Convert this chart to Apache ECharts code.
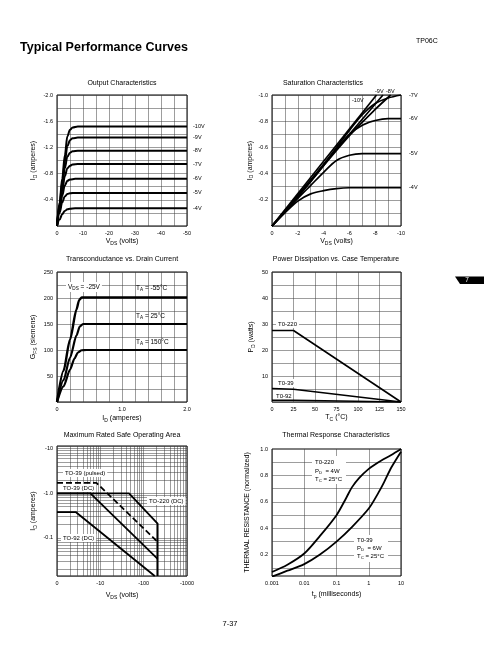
<!DOCTYPE html>
<html><head><meta charset="utf-8">
<script src="https://cdn.jsdelivr.net/npm/echarts@6/dist/echarts.min.js"></script>
<style>html,body{margin:0;padding:0;background:#fff}#c{width:486px;height:649px}</style>
</head><body><div id="c"></div>
<script>
const FONT = '"Liberation Sans", Arial, Helvetica, sans-serif';

// ---------- Output Characteristics (VDS volts, ID amperes) ----------
const outNames = ['-10V','-9V','-8V','-7V','-6V','-5V','-4V'];
const outM10 = [[0,0],[-1,-0.36],[-2,-0.72],[-3,-1.08],[-4,-1.37],[-5,-1.47],[-6,-1.505],[-8,-1.52],[-50,-1.52]];
const outM9  = [[0,0],[-1,-0.33],[-2,-0.66],[-3,-0.98],[-4,-1.22],[-5,-1.31],[-6,-1.34],[-8,-1.35],[-50,-1.35]];
const outM8  = [[0,0],[-1,-0.3],[-2,-0.6],[-3,-0.88],[-4,-1.06],[-5,-1.12],[-6,-1.14],[-8,-1.15],[-50,-1.15]];
const outM7  = [[0,0],[-1,-0.27],[-2,-0.53],[-3,-0.76],[-4,-0.88],[-5,-0.92],[-6,-0.94],[-8,-0.945],[-50,-0.945]];
const outM6  = [[0,0],[-1,-0.24],[-2,-0.46],[-3,-0.62],[-4,-0.69],[-5,-0.71],[-7,-0.72],[-50,-0.72]];
const outM5  = [[0,0],[-1,-0.2],[-2,-0.36],[-3,-0.45],[-4,-0.49],[-5,-0.5],[-7,-0.505],[-50,-0.505]];
const outM4  = [[0,0],[-1,-0.1],[-2,-0.18],[-3,-0.23],[-4,-0.255],[-5,-0.265],[-7,-0.27],[-50,-0.27]];
const outCurves = [outM10,outM9,outM8,outM7,outM6,outM5,outM4];

// ---------- Saturation Characteristics ----------
const satNames = ['-10V','-9V','-8V','-7V','-6V','-5V','-4V'];
const satM10 = [[0,0],[-8.1,-1.0]];
const satM9  = [[0,0],[-4,-0.47],[-8.6,-1.0]];
const satM8  = [[0,0],[-3,-0.345],[-6,-0.69],[-8,-0.89],[-9.2,-1.0]];
const satM7  = [[0,0],[-2,-0.225],[-4,-0.47],[-5,-0.6],[-6,-0.73],[-7,-0.85],[-8,-0.935],[-9,-0.977],[-10,-1.0]];
const satM6  = [[0,0],[-2,-0.22],[-4,-0.46],[-5,-0.59],[-6,-0.7],[-7,-0.77],[-8,-0.805],[-9,-0.82],[-10,-0.82]];
const satM5  = [[0,0],[-2,-0.21],[-3,-0.31],[-4,-0.41],[-5,-0.5],[-6,-0.54],[-7,-0.552],[-10,-0.552]];
const satM4  = [[0,0],[-1,-0.1],[-2,-0.19],[-3,-0.245],[-4,-0.27],[-5,-0.286],[-6,-0.292],[-10,-0.292]];
const satCurves = [satM10,satM9,satM8,satM7,satM6,satM5,satM4];

// ---------- Transconductance vs Drain Current (ID A, GFS S) ----------
const gfsM55 = [[0,0],[0.1,60],[0.2,120],[0.3,178],[0.34,196],[0.38,201],[2,201]];
const gfs25  = [[0,0],[0.1,42],[0.2,85],[0.3,128],[0.35,145],[0.4,150],[2,150]];
const gfs150 = [[0,0],[0.1,30],[0.2,62],[0.27,84],[0.32,95],[0.38,99.5],[0.45,100],[2,100]];

// ---------- Power Dissipation vs Case Temperature (TC, PD) ----------
const pdTO220 = [[0,27.5],[25,27.5],[150,0]];
const pdTO39  = [[0,5.2],[25,4.9],[150,0]];
const pdTO92  = [[0,0.7],[25,0.65],[150,0]];

// ---------- Max Rated Safe Operating Area (|VDS|, |ID|) ----------
const soaTO220   = [[1,1.0],[46,1.0],[210,0.21],[210,0.014]];
const soaTO39P   = [[1,1.72],[8.1,1.72],[200,0.085]];
const soaTO39DC  = [[1,1.0],[5.9,1.0],[210,0.034]];
const soaTO92    = [[1,0.38],[2.7,0.38],[180,0.014]];

// ---------- Thermal Response (tp ms, normalized) ----------
const thTO220 = [[0.001,0.07],[0.003,0.125],[0.01,0.21],[0.03,0.34],[0.1,0.5],[0.2,0.63],[0.3,0.71],[0.5,0.78],[1,0.85],[2,0.9],[5,0.955],[10,1.0]];
const thTO39  = [[0.001,0.035],[0.003,0.08],[0.01,0.13],[0.03,0.2],[0.1,0.3],[0.3,0.41],[1,0.55],[2,0.67],[3,0.75],[5,0.86],[10,0.98]];

// tick label lists
const thYLabels = [0.2,0.4,0.6,0.8,1.0];

// ---------- helpers ----------
const GRID_LINE = {color:'#3a3a3a', width:0.5};
const RICH = {
  m:{fontSize:7, fontFamily:FONT, color:'#000', verticalAlign:'top', lineHeight:8},
  s:{fontSize:5, fontFamily:FONT, color:'#000', verticalAlign:'top', lineHeight:6, padding:[3,0,0,0]}
};
const near = (v, step) => Math.abs(Math.round(v/step)*step - v) < 1e-6;

function axis(gi, o, fmt) {
  const a = {
    gridIndex: gi, type:'value',
    axisLine:{show:false}, axisTick:{show:false},
    splitLine:{show:true, lineStyle:GRID_LINE},
    axisLabel:{fontSize:5.5, color:'#000', fontFamily:FONT, margin:4, interval:0, hideOverlap:false, showMinLabel:true, showMaxLabel:true, formatter: fmt},
    nameLocation:'middle',
    nameTextStyle:{rich:RICH}
  };
  return Object.assign(a, o);
}
function ln(gi, name, data, extra) {
  return Object.assign({
    type:'line', name, data, xAxisIndex:gi, yAxisIndex:gi,
    symbol:'none', showSymbol:false, silent:true, animation:false,
    lineStyle:{color:'#000', width:2}, z:5
  }, extra || {});
}
function logMinor(lo, hi) {
  const r = [];
  for (let d = lo; d < hi*0.999; d *= 10) for (let k = 2; k <= 9; k++) r.push(+(d*k).toPrecision(3));
  return r;
}
function txt(x, y, text, size, extra) {
  return {
    type:'text', x, y, z:100,
    style:Object.assign({text, fill:'#000', fontSize:size||6.5, fontFamily:FONT, align:'left', verticalAlign:'middle',
      rich:{m:{fontSize:size||6.5, fontFamily:FONT, fill:'#000'}, s:{fontSize:(size||6.5)*0.72, fontFamily:FONT, fill:'#000', padding:[3,0,0,0]}}
    }, (extra||{}))
  };
}
const BOX = {backgroundColor:'#fff', padding:[1,2]};

const grids = [
  {left:57, top:95, width:130, height:131},
  {left:272, top:95, width:129, height:131},
  {left:57, top:272, width:130, height:130},
  {left:272, top:272, width:129, height:130},
  {left:57, top:446, width:130, height:130},
  {left:272, top:449, width:129, height:127}
].map(g => Object.assign({show:true, borderColor:'#000', borderWidth:1, backgroundColor:'#fff', containLabel:false}, g));

const xAxes = [
  axis(0, {min:-50, max:0, interval:5, inverse:true, name:'{m|V}{s|DS}{m| (volts)}', nameGap:12},
    v => near(v,10) ? (Math.abs(v)<1e-9 ? '0' : String(Math.round(v))) : ''),
  axis(1, {min:-10, max:0, interval:1, inverse:true, name:'{m|V}{s|DS}{m| (volts)}', nameGap:12},
    v => near(v,2) ? (Math.abs(v)<1e-9 ? '0' : String(Math.round(v))) : ''),
  axis(2, {min:0, max:2, interval:0.2, name:'{m|I}{s|D}{m| (amperes)}', nameGap:13},
    v => near(v,1) ? (v<1e-9 ? '0' : v.toFixed(1)) : ''),
  axis(3, {min:0, max:150, interval:25, name:'{m|T}{s|C}{m| (°C)}', nameGap:12},
    v => String(Math.round(v))),
  axis(4, {type:'log', logBase:10, min:1, max:1000, name:'{m|V}{s|DS}{m| (volts)}', nameGap:16},
    v => { const n = +(+v).toPrecision(3); return n===1 ? '0' : '-'+n; }),
  axis(5, {type:'log', logBase:10, min:0.001, max:10, name:'{m|t}{s|p}{m| (milliseconds)}', nameGap:15},
    v => String(+(+v).toPrecision(3)))
];
const yAxes = [
  axis(0, {min:-2, max:0, interval:0.2, inverse:true, name:'{m|I}{s|D}{m| (amperes)}', nameGap:19},
    v => (v < -1e-9 && near(v,0.4)) ? v.toFixed(1) : ''),
  axis(1, {min:-1, max:0, interval:0.1, inverse:true, name:'{m|I}{s|D}{m| (amperes)}', nameGap:17},
    v => (v < -1e-9 && near(v,0.2)) ? v.toFixed(1) : ''),
  axis(2, {min:0, max:250, interval:25, name:'{m|G}{s|FS}{m| (siemens)}', nameGap:19},
    v => (v > 0 && near(v,50)) ? String(Math.round(v)) : ''),
  axis(3, {min:0, max:50, interval:5, name:'{m|P}{s|D}{m| (watts)}', nameGap:16},
    v => (v > 0 && near(v,10)) ? String(Math.round(v)) : ''),
  axis(4, {type:'log', logBase:10, min:0.014, max:11.5, name:'{m|I}{s|D}{m| (amperes)}', nameGap:19},
    v => { const n = +(+v).toPrecision(3); return n===10 ? '-10' : n===1 ? '-1.0' : n===0.1 ? '-0.1' : ''; }),
  axis(5, {min:0.04, max:1.0, name:'{m|THERMAL RESISTANCE (normalized)}', nameGap:20,
    splitLine:{show:false}},
    v => v.toFixed(1))
];
yAxes[5].axisLabel.customValues = thYLabels;

const series = [];
outCurves.forEach((d,i) => series.push(ln(0, outNames[i], d, {smooth:0.35, smoothMonotone:'x'})));
satCurves.forEach((d,i) => series.push(ln(1, satNames[i], d, {smooth: i < 2 ? false : 0.3, lineStyle:{color:'#000', width:1.7}})));
series.push(ln(2, 'TA=-55', gfsM55, {smooth:0.25, smoothMonotone:'x', lineStyle:{color:'#000', width:2.4}}));
series.push(ln(2, 'TA=25', gfs25, {smooth:0.25, smoothMonotone:'x', lineStyle:{color:'#000', width:2.2}}));
series.push(ln(2, 'TA=150', gfs150, {smooth:0.25, smoothMonotone:'x', lineStyle:{color:'#000', width:2.2}}));
series.push(ln(3, 'TO-220', pdTO220, {lineStyle:{color:'#000', width:1.6}}));
series.push(ln(3, 'TO-39', pdTO39, {lineStyle:{color:'#000', width:1.6}}));
series.push(ln(3, 'TO-92', pdTO92, {lineStyle:{color:'#000', width:1.6}}));

const soaMinorX = logMinor(1, 1000), soaMinorY = logMinor(0.01, 10);
series.push(ln(4, 'grid', [], {z:1, markLine:{silent:true, symbol:['none','none'], label:{show:false}, animation:false,
  lineStyle:Object.assign({type:'solid'}, GRID_LINE),
  data: soaMinorX.map(v=>({xAxis:v})).concat(soaMinorY.filter(v=>v>0.014).map(v=>({yAxis:v})))}}));
series.push(ln(4, 'TO-220 (DC)', soaTO220, {lineStyle:{color:'#000', width:1.8}}));
series.push(ln(4, 'TO-39 (pulsed)', soaTO39P, {lineStyle:{color:'#000', width:1.8, type:[6,3]}}));
series.push(ln(4, 'TO-39 (DC)', soaTO39DC, {lineStyle:{color:'#000', width:1.8}}));
series.push(ln(4, 'TO-92 (DC)', soaTO92, {lineStyle:{color:'#000', width:1.8}}));

const thGridY = [0.1,0.2,0.3,0.4,0.5,0.6,0.7,0.8,0.9];
series.push(ln(5, 'grid', [], {z:1, markLine:{silent:true, symbol:['none','none'], label:{show:false}, animation:false,
  lineStyle:Object.assign({type:'solid'}, GRID_LINE),
  data: thGridY.map(v=>({yAxis:v}))}}));
series.push(ln(5, 'TO-220', thTO220, {smooth:0.3, lineStyle:{color:'#000', width:1.8}}));
series.push(ln(5, 'TO-39', thTO39, {smooth:0.3, lineStyle:{color:'#000', width:1.8}}));

const titleStyle = {fontSize:7, fontWeight:'normal', color:'#000', fontFamily:FONT};
const titles = [
  ['Output Characteristics', 122, 80],
  ['Saturation Characteristics', 323, 80],
  ['Transconductance vs. Drain Current', 122, 256],
  ['Power Dissipation vs. Case Temperature', 336, 256],
  ['Maximum Rated Safe Operating Area', 122, 432],
  ['Thermal Response Characteristics', 336, 432]
].map(t => ({text:t[0], left:t[1], top:t[2], textAlign:'center', padding:0, textStyle:titleStyle}));

const graphic = [
  {type:'text', x:20, y:48, z:100, style:{text:'Typical Performance Curves', fill:'#000', fontSize:12.5, fontWeight:'bold', fontFamily:FONT, verticalAlign:'middle'}},
  {type:'text', x:416, y:41, z:100, style:{text:'TP06C', fill:'#000', fontSize:7, fontFamily:FONT, verticalAlign:'middle'}},
  {type:'text', x:230, y:624, z:100, style:{text:'7-37', fill:'#000', fontSize:7.5, fontFamily:FONT, align:'center', verticalAlign:'middle'}},
  {type:'polygon', z:100, shape:{points:[[455,276.5],[484,276.5],[484,284],[460,284]]}, style:{fill:'#000'}},
  {type:'text', x:467, y:280.5, z:101, style:{text:'7', fill:'#fff', fontSize:6.5, fontFamily:FONT, align:'center', verticalAlign:'middle'}},
  // saturation labels at top
  txt(352, 100, '-10V', 5.5),
  txt(375, 91, '-9V', 5.5),
  txt(386, 91, '-8V', 5.5),
  // transconductance
  txt(66, 287, '{m|V}{s|DS}{m| = -25V}', 6.5, BOX),
  txt(136, 288, '{m|T}{s|A}{m| = -55°C}', 6.5),
  txt(136, 316, '{m|T}{s|A}{m| = 25°C}', 6.5),
  txt(136, 342, '{m|T}{s|A}{m| = 150°C}', 6.5),
  // power dissipation
  txt(276, 324, 'T0-220', 6, BOX),
  txt(276, 383, 'T0-39', 6, BOX),
  txt(276, 396, 'T0-92', 6),
  // SOA
  txt(63, 473, 'TO-39 (pulsed)', 6, BOX),
  txt(61, 488, 'TO-39 (DC)', 6, BOX),
  txt(147, 501, 'TO-220 (DC)', 6, BOX),
  txt(61, 538, 'TO-92 (DC)', 6, BOX),
  // thermal
  {type:'rect', z:99, shape:{x:312, y:456, width:34, height:28}, style:{fill:'#fff'}},
  txt(315, 462, 'T0-220', 6),
  txt(315, 471, '{m|P}{s|D}{m|  = 4W}', 6),
  txt(315, 479, '{m|T}{s|C}{m| = 25°C}', 6),
  {type:'rect', z:99, shape:{x:354, y:535, width:34, height:27}, style:{fill:'#fff'}},
  txt(357, 540, 'T0-39', 6),
  txt(357, 548, '{m|P}{s|D}{m|  = 6W}', 6),
  txt(357, 556, '{m|T}{s|C}{m| = 25°C}', 6)
];

const chart = echarts.init(document.getElementById('c'), null, {renderer:'canvas', width:486, height:649});
chart.setOption({
  animation:false,
  backgroundColor:'#fff',
  textStyle:{fontFamily:FONT},
  title:titles,
  grid:grids,
  xAxis:xAxes,
  yAxis:yAxes,
  series,
  graphic
});

// curve-end labels, positioned through the chart's own scales
const endLabels = [];
outCurves.forEach((d,i) => {
  const p = chart.convertToPixel({gridIndex:0}, d[d.length-1]);
  endLabels.push(txt(p[0]+6, p[1], outNames[i], 5.5));
});
satCurves.forEach((d,i) => {
  if (i < 3) return;
  const p = chart.convertToPixel({gridIndex:1}, d[d.length-1]);
  endLabels.push(txt(p[0]+8, p[1], satNames[i], 5.5));
});
chart.setOption({graphic: graphic.concat(endLabels)});
</script></body></html>
